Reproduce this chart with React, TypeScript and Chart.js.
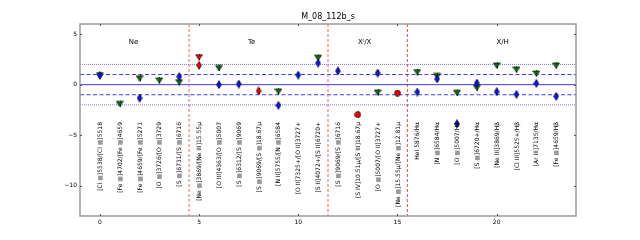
import React, { useEffect, useRef } from "react";
import { Chart, registerables } from "chart.js";

Chart.register(...registerables);

const TITLE = "M_08_112b_s";
const categories = [
  "[Cl ■]5538/[Cl ■]5518",
  "[Fe ■]4702/[Fe ■]4659",
  "[Fe ■]4659/[Fe ■]5271",
  "[O ■]3726/[O ■]3729",
  "[S ■]6731/[S ■]6716",
  "[Ne ■]3869/[Ne III]15.55μ",
  "[O III]4363/[O ■]5007",
  "[S ■]6312/[S ■]9069",
  "[S ■]9069/[S ■]18.67μ",
  "[N II]5755/[N ■]6584",
  "[O II]7325+/[O II]3727+",
  "[S II]4072+/[S II]6720+",
  "[S ■]9069/[S ■]6716",
  "[S IV]10.51μ/[S III]18.67μ",
  "[O ■]5007/[O II]3727+",
  "[Ne ■]15.55μ/[Ne ■]12.81μ",
  "HeI 5876/Hα",
  "[N ■]6584/Hα",
  "[O ■]5007/Hβ",
  "[S ■]6720+/Hα",
  "[Ne III]3869/Hβ",
  "[Cl III]5525+/Hβ",
  "[Ar III]7135/Hα",
  "[Fe ■]4659/Hβ",
];

const groupNames = ["Ne", "Te", "Xⁱ/X", "X/H"];
const groupX = [1.7, 7.65, 13.35, 20.3];
const groupY = 4.2;
const separators = [4.5, 11.5, 15.5];
const refSolid = [0];
const refDashed = [-1, 1];
const refDotted = [-2, 2];
const xTicks = [0, 5, 10, 15, 20];
const yTicks = [-10, -5, 0, 5];
const labelTop = -3.7;

const blueDiamond: (number | null)[] = [
  0.92, null, -1.33, null, 0.79, null, 0.0, 0.06, null, -2.05, 0.95, 2.14,
  1.35, null, 1.15, null, -0.73, 0.56, -3.87, 0.16, -0.7, -0.96, 0.13, -1.16,
];
const greenTriangle: (number | null)[] = [
  0.95, -1.9, 0.65, 0.43, 0.26, null, 1.65, null, null, -0.66, null, 2.67,
  null, null, -0.76, null, 1.25, 0.86, -0.8, -0.3, 1.91, 1.51, 1.12, 1.91,
];
const redDiamond: (number | null)[] = [
  null, null, null, null, null, 1.91, null, null, -0.63, null, null, null,
  null, null, null, null, null, null, null, null, null, null, null, null,
];
const redTriangle: (number | null)[] = [
  null, null, null, null, null, 2.73, null, null, null, null, null, null,
  null, null, null, null, null, null, null, null, null, null, null, null,
];
const redCircle: (number | null)[] = [
  null, null, null, null, null, null, null, null, null, null, null, null,
  null, -2.97, null, -0.83, null, null, null, null, null, null, null, null,
];
const errSize = 0.3;

function toPoints(arr: (number | null)[]) {
  const out: { x: number; y: number }[] = [];
  arr.forEach((v, i) => {
    if (v !== null) out.push({ x: i, y: v });
  });
  return out;
}

function makeMarker(kind: string, fill: string): HTMLCanvasElement {
  const c = document.createElement("canvas");
  const ctx = c.getContext("2d")!;
  if (kind === "diamond") {
    c.width = 6;
    c.height = 9;
    ctx.beginPath();
    ctx.moveTo(3, 0.5);
    ctx.lineTo(5.5, 4.5);
    ctx.lineTo(3, 8.5);
    ctx.lineTo(0.5, 4.5);
    ctx.closePath();
  } else if (kind === "tri") {
    c.width = 8;
    c.height = 7;
    ctx.beginPath();
    ctx.moveTo(0.5, 1);
    ctx.lineTo(7.5, 1);
    ctx.lineTo(4, 6.5);
    ctx.closePath();
  } else {
    c.width = 7;
    c.height = 7;
    ctx.beginPath();
    ctx.arc(3.5, 3.5, 3, 0, Math.PI * 2);
  }
  ctx.fillStyle = fill;
  ctx.fill();
  ctx.lineWidth = 0.6;
  ctx.strokeStyle = "#000";
  ctx.stroke();
  return c;
}

const decorPlugin = {
  id: "decor",
  beforeDatasetsDraw(chart: any) {
    const { ctx, chartArea: a, scales } = chart;
    const xs = scales.x;
    const ys = scales.y;
    ctx.save();
    ctx.beginPath();
    ctx.rect(a.left, a.top, a.right - a.left, a.bottom - a.top);
    ctx.clip();
    const hline = (v: number, dash: number[], color: string) => {
      const y = ys.getPixelForValue(v);
      ctx.setLineDash(dash);
      ctx.strokeStyle = color;
      ctx.lineWidth = 1;
      ctx.beginPath();
      ctx.moveTo(a.left, y);
      ctx.lineTo(a.right, y);
      ctx.stroke();
    };
    refSolid.forEach((v) => hline(v, [], "#3c3cff"));
    refDashed.forEach((v) => hline(v, [4, 2.5], "#3c3cff"));
    refDotted.forEach((v) => hline(v, [1, 1], "#7878ff"));
    separators.forEach((v, i) => {
      const x = xs.getPixelForValue(v);
      ctx.setLineDash([3, 2]);
      ctx.strokeStyle = i < 2 ? "rgba(245,110,110,0.55)" : "rgba(225,40,40,0.85)";
      ctx.lineWidth = i < 2 ? 2 : 1;
      ctx.beginPath();
      ctx.moveTo(x, a.top);
      ctx.lineTo(x, a.bottom);
      ctx.stroke();
    });
    ctx.setLineDash([]);
    // error bars
    ctx.strokeStyle = "#000";
    ctx.lineWidth = 1;
    [blueDiamond, greenTriangle, redDiamond, redTriangle, redCircle].forEach((arr) => {
      arr.forEach((v, i) => {
        if (v === null) return;
        const x = Math.round(xs.getPixelForValue(i)) + 0.5;
        ctx.beginPath();
        ctx.moveTo(x, ys.getPixelForValue(v - errSize));
        ctx.lineTo(x, ys.getPixelForValue(v + errSize));
        ctx.stroke();
      });
    });
    ctx.restore();
  },
  afterDraw(chart: any) {
    const { ctx, chartArea: a, scales } = chart;
    const xs = scales.x;
    const ys = scales.y;
    ctx.save();
    // frame
    ctx.strokeStyle = "#9a9a9a";
    ctx.lineWidth = 1.5;
    ctx.strokeRect(a.left, a.top, a.right - a.left, a.bottom - a.top);
    // inward ticks
    ctx.strokeStyle = "#555";
    ctx.lineWidth = 1;
    xTicks.forEach((v) => {
      const x = Math.round(xs.getPixelForValue(v)) + 0.5;
      ctx.beginPath();
      ctx.moveTo(x, a.bottom);
      ctx.lineTo(x, a.bottom - 2);
      ctx.moveTo(x, a.top);
      ctx.lineTo(x, a.top + 2);
      ctx.stroke();
    });
    yTicks.forEach((v) => {
      const y = Math.round(ys.getPixelForValue(v)) + 0.5;
      ctx.beginPath();
      ctx.moveTo(a.left, y);
      ctx.lineTo(a.left + 2, y);
      ctx.moveTo(a.right, y);
      ctx.lineTo(a.right - 2, y);
      ctx.stroke();
    });
    // title
    ctx.fillStyle = "#000";
    ctx.font = "8px 'DejaVu Sans'";
    ctx.textAlign = "center";
    ctx.textBaseline = "middle";
    ctx.fillText(TITLE, (a.left + a.right) / 2, a.top - 7);
    // group labels
    ctx.font = "7px 'DejaVu Sans'";
    groupNames.forEach((g, i) => {
      ctx.fillText(g, xs.getPixelForValue(groupX[i]), ys.getPixelForValue(groupY));
    });
    // category labels (rotated)
    ctx.font = "6px 'DejaVu Sans'";
    ctx.textAlign = "left";
    const top = ys.getPixelForValue(labelTop);
    categories.forEach((lab, i) => {
      const parts = lab.split("■");
      const boxW = ctx.measureText("■").width;
      let total = 0;
      parts.forEach((p, k) => {
        total += ctx.measureText(p).width;
        if (k < parts.length - 1) total += boxW;
      });
      ctx.save();
      ctx.translate(xs.getPixelForValue(i) + 0.5, top);
      ctx.rotate(-Math.PI / 2);
      let pos = -total;
      parts.forEach((p, k) => {
        ctx.fillStyle = "#000";
        ctx.fillText(p, pos, 0);
        pos += ctx.measureText(p).width;
        if (k < parts.length - 1) {
          ctx.fillStyle = "#9a9a9a";
          ctx.fillText("■", pos, 0);
          pos += boxW;
        }
      });
      ctx.restore();
    });
    ctx.restore();
  },
};

export default function App() {
  const ref = useRef<HTMLCanvasElement | null>(null);
  useEffect(() => {
    if (!ref.current) return;
    const mk = (arr: (number | null)[], style: HTMLCanvasElement, label: string) => ({
      label,
      data: toPoints(arr),
      pointStyle: style,
      pointRadius: 4,
      showLine: false,
    });
    const chart = new Chart(ref.current, {
      type: "scatter",
      data: {
        datasets: [
          mk(blueDiamond, makeMarker("diamond", "#0a14e6"), "blue"),
          mk(greenTriangle, makeMarker("tri", "#0a6e0a"), "green"),
          mk(redDiamond, makeMarker("diamond", "#ee0000"), "redD"),
          mk(redTriangle, makeMarker("tri", "#ee0000"), "redT"),
          mk(redCircle, makeMarker("circle", "#ee0000"), "redC"),
        ],
      },
      options: {
        animation: false,
        responsive: false,
        layout: { padding: { top: 24, right: 64, left: 0, bottom: 0 } },
        plugins: {
          legend: { display: false },
          tooltip: { enabled: false },
          title: { display: false },
        },
        scales: {
          x: {
            type: "linear",
            min: -1,
            max: 24,
            afterBuildTicks: (axis: any) => {
              axis.ticks = xTicks.map((v) => ({ value: v }));
            },
            afterFit: (s: any) => {
              s.height = 24;
            },
            grid: { display: false, drawTicks: false },
            border: { display: false },
            ticks: {
              color: "#000",
              padding: 3,
              maxRotation: 0,
              font: { size: 6, family: "'DejaVu Sans'" },
              callback: (v: any) => String(v),
            },
          },
          y: {
            type: "linear",
            min: -13,
            max: 6,
            afterBuildTicks: (axis: any) => {
              axis.ticks = yTicks.map((v) => ({ value: v }));
            },
            afterFit: (s: any) => {
              s.width = 80;
            },
            grid: { display: false, drawTicks: false },
            border: { display: false },
            ticks: {
              color: "#000",
              padding: 3,
              font: { size: 6, family: "'DejaVu Sans'" },
              callback: (v: any) => (v < 0 ? "\u2212" + Math.abs(v) : String(v)),
            },
          },
        },
      } as any,
      plugins: [decorPlugin],
    });
    return () => chart.destroy();
  }, []);
  return (
    <div style={{ position: "fixed", left: 0, top: 0, width: 640, height: 240, background: "#fff" }}>
      <canvas ref={ref} width={640} height={240} style={{ display: "block" }} />
    </div>
  );
}
